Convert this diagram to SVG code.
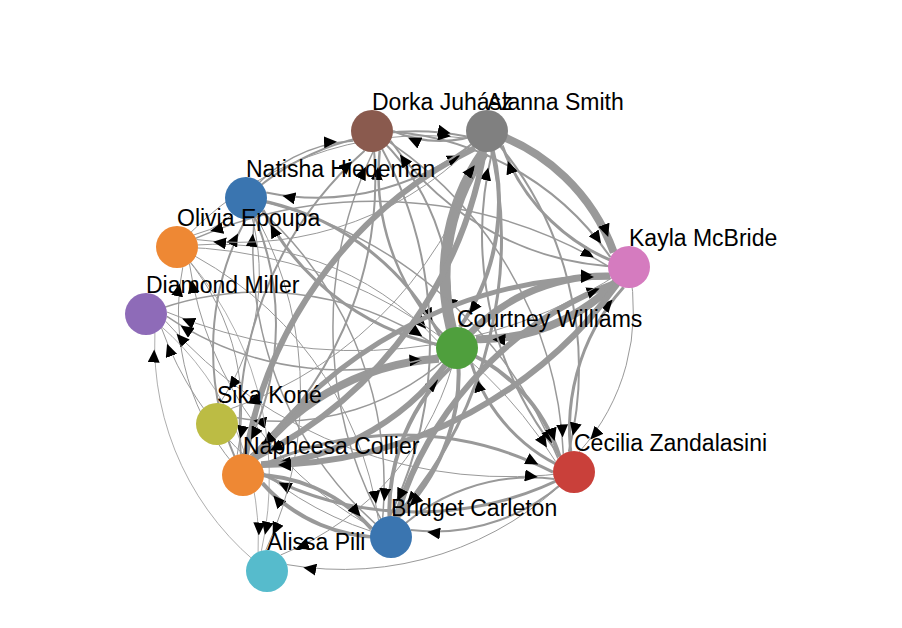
<svg xmlns="http://www.w3.org/2000/svg" width="902" height="628" viewBox="0 0 902 628">
<style>
.e{fill:none;stroke:#999;marker-end:url(#arr)}
.lbl{font-family:"Liberation Sans",Arial,Helvetica,sans-serif;font-size:23px;fill:#000}
</style>
<defs>
<marker id="arr" viewBox="0 -6 13 12" refX="29.5" refY="0" markerWidth="13" markerHeight="12" markerUnits="userSpaceOnUse" orient="auto">
<path d="M0,-6L13,0L0,6Z" fill="#000"/>
</marker>
</defs>
<rect width="902" height="628" fill="#fff"/>
<g id="links">
<path class="e" stroke-width="8" d="M629,267A190,190 0 0,1 476,339.1"/>
<path class="e" stroke-width="3" d="M574,472A170.5,170.5 0 0,1 471.4,363.3"/>
<path class="e" stroke-width="4" d="M391,537A200,200 0 0,1 450.1,367.8"/>
<path class="e" stroke-width="8" d="M243,475A249,249 0 0,1 438.9,358.7"/>
<path class="e" stroke-width="1.5" d="M146,314A313,313 0 0,1 436.1,345.7"/>
<path class="e" stroke-width="1" d="M177,247A298,298 0 0,1 437.3,340.9"/>
<path class="e" stroke-width="3" d="M246,198A259,259 0 0,1 439.9,335.8"/>
<path class="e" stroke-width="2" d="M372,131A233,233 0 0,1 449.3,328.5"/>
<path class="e" stroke-width="4" d="M487,131A219,219 0 0,1 459.9,327.2"/>
<path class="e" stroke-width="8" d="M487,131A197,197 0 0,1 613.8,252.5"/>
<path class="e" stroke-width="2" d="M372,131A291,291 0 0,1 610.4,257.2"/>
<path class="e" stroke-width="1.5" d="M177,247A452,452 0 0,1 608,266.1"/>
<path class="e" stroke-width="7" d="M457,348A190,190 0 0,1 610,276"/>
<path class="e" stroke-width="6" d="M391,537A360,360 0 0,1 615.1,282.8"/>
<path class="e" stroke-width="3" d="M574,472A212,212 0 0,1 623.6,287.3"/>
<path class="e" stroke-width="5" d="M243,475A438.5,438.5 0 0,1 610.5,277"/>
<path class="e" stroke-width="2" d="M246,198A250,250 0 0,1 466.8,136.6"/>
<path class="e" stroke-width="1" d="M177,247A331,331 0 0,1 467.3,138.4"/>
<path class="e" stroke-width="6" d="M243,475A421.7,421.7 0 0,1 474.9,148.1"/>
<path class="e" stroke-width="11" d="M457,348A219,219 0 0,1 484.1,151.8"/>
<path class="e" stroke-width="2" d="M574,472A352,352 0 0,1 492.2,151.4"/>
<path class="e" stroke-width="3" d="M629,267A197,197 0 0,1 502.2,145.5"/>
<path class="e" stroke-width="2" d="M487,131A115,115 0 0,1 393,131"/>
<path class="e" stroke-width="2" d="M629,267A291,291 0 0,1 390.6,140.8"/>
<path class="e" stroke-width="1.5" d="M246,198A142.7,142.7 0 0,1 353.5,140.9"/>
<path class="e" stroke-width="2.5" d="M457,348A233,233 0 0,1 379.7,150.6"/>
<path class="e" stroke-width="1.5" d="M391,537A406,406 0 0,1 373,152"/>
<path class="e" stroke-width="2" d="M243,475A367,367 0 0,1 364.6,150.7"/>
<path class="e" stroke-width="2" d="M487,131A250,250 0 0,1 266.2,192.4"/>
<path class="e" stroke-width="3" d="M457,348A259,259 0 0,1 263.1,210.2"/>
<path class="e" stroke-width="1.5" d="M391,537A369,369 0 0,1 254.3,217.3"/>
<path class="e" stroke-width="2" d="M243,475A277,277 0 0,1 245.8,219"/>
<path class="e" stroke-width="1" d="M246,198A84.6,84.6 0 0,1 194.1,234.8"/>
<path class="e" stroke-width="1" d="M487,131A331,331 0 0,1 196.7,239.6"/>
<path class="e" stroke-width="1" d="M243,475A237,237 0 0,1 182.8,267.2"/>
<path class="e" stroke-width="1" d="M391,537A360,360 0 0,1 189.5,263.9"/>
<path class="e" stroke-width="1" d="M629,267A485,485 0 0,1 166.9,312"/>
<path class="e" stroke-width="1.5" d="M457,348A313,313 0 0,1 166.9,316.3"/>
<path class="e" stroke-width="1" d="M574,472A456,456 0 0,1 165.7,321.3"/>
<path class="e" stroke-width="1" d="M391,537A331,331 0 0,1 161.5,328.1"/>
<path class="e" stroke-width="0.8" d="M267,571A284,284 0 0,1 154.9,333"/>
<path class="e" stroke-width="1" d="M246,198A228,228 0 0,1 219.7,403.2"/>
<path class="e" stroke-width="1" d="M487,131A398,398 0 0,1 231.2,408.6"/>
<path class="e" stroke-width="1.5" d="M457,348A252,252 0 0,1 237,417.7"/>
<path class="e" stroke-width="2" d="M372,131A367,367 0 0,1 250.4,455.3"/>
<path class="e" stroke-width="6" d="M487,131A421.7,421.7 0 0,1 255.2,457.9"/>
<path class="e" stroke-width="2" d="M246,198A277,277 0 0,1 243.2,454"/>
<path class="e" stroke-width="1" d="M177,247A237,237 0 0,1 237.2,454.8"/>
<path class="e" stroke-width="6" d="M457,348A249,249 0 0,1 261.1,464.3"/>
<path class="e" stroke-width="6" d="M629,267A438.5,438.5 0 0,1 261.5,465"/>
<path class="e" stroke-width="3" d="M574,472A331,331 0 0,1 264,474.8"/>
<path class="e" stroke-width="4" d="M391,537A160.5,160.5 0 0,1 262.4,483.1"/>
<path class="e" stroke-width="0.8" d="M146,314A284,284 0 0,1 258.1,552"/>
<path class="e" stroke-width="0.8" d="M177,247A336,336 0 0,1 261.4,550.8"/>
<path class="e" stroke-width="1" d="M246,198A374,374 0 0,1 265.8,550"/>
<path class="e" stroke-width="1" d="M457,348A293,293 0 0,1 280.6,555"/>
<path class="e" stroke-width="1" d="M574,472A323,323 0 0,1 287,564.6"/>
<path class="e" stroke-width="1" d="M177,247A360,360 0 0,1 378.5,520.1"/>
<path class="e" stroke-width="1.5" d="M246,198A369,369 0 0,1 382.7,517.7"/>
<path class="e" stroke-width="2" d="M372,131A406,406 0 0,1 390,516"/>
<path class="e" stroke-width="3" d="M487,131A417,417 0 0,1 395.8,516.6"/>
<path class="e" stroke-width="4" d="M457,348A200,200 0 0,1 397.9,517.2"/>
<path class="e" stroke-width="4" d="M243,475A160.5,160.5 0 0,1 371.6,528.9"/>
<path class="e" stroke-width="2" d="M574,472A194,194 0 0,1 410.8,530"/>
<path class="e" stroke-width="1" d="M177,247A456,456 0 0,1 555.7,461.6"/>
<path class="e" stroke-width="1.5" d="M246,198A427,427 0 0,1 557.9,458.5"/>
<path class="e" stroke-width="1.5" d="M372,131A396,396 0 0,1 563.3,453.9"/>
<path class="e" stroke-width="2" d="M487,131A352,352 0 0,1 568.8,451.7"/>
<path class="e" stroke-width="1" d="M629,267A212,212 0 0,1 579.4,451.7"/>
<path class="e" stroke-width="3" d="M243,475A331,331 0 0,1 553,472.2"/>
<path class="e" stroke-width="2" d="M391,537A194,194 0 0,1 554.2,479"/>
<path class="e" stroke-width="4" d="M457,348A170.5,170.5 0 0,1 559.6,456.7"/>
</g>
<g id="nodes">
<g id="n-dorka"><circle cx="372" cy="131" r="21" fill="#8a5a4e"/><text class="lbl" x="372" y="110">Dorka Juhász</text></g>
<g id="n-alanna"><circle cx="487" cy="131" r="21" fill="#808080"/><text class="lbl" x="487" y="110">Alanna Smith</text></g>
<g id="n-natisha"><circle cx="246" cy="198" r="21" fill="#3a75b0"/><text class="lbl" x="246" y="177">Natisha Hiedeman</text></g>
<g id="n-olivia"><circle cx="177" cy="247" r="21" fill="#ee8834"/><text class="lbl" x="177" y="226">Olivia Epoupa</text></g>
<g id="n-kayla"><circle cx="629" cy="267" r="21" fill="#d57bbf"/><text class="lbl" x="629" y="246">Kayla McBride</text></g>
<g id="n-diamond"><circle cx="146" cy="314" r="21" fill="#8e6bb8"/><text class="lbl" x="146" y="293">Diamond Miller</text></g>
<g id="n-courtney"><circle cx="457" cy="348" r="21" fill="#4f9f3d"/><text class="lbl" x="457" y="327">Courtney Williams</text></g>
<g id="n-sika"><circle cx="217" cy="424" r="21" fill="#bcbc44"/><text class="lbl" x="217" y="403">Sika Koné</text></g>
<g id="n-napheesa"><circle cx="243" cy="475" r="21" fill="#ee8834"/><text class="lbl" x="243" y="454">Napheesa Collier</text></g>
<g id="n-cecilia"><circle cx="574" cy="472" r="21" fill="#c9403a"/><text class="lbl" x="574" y="451">Cecilia Zandalasini</text></g>
<g id="n-bridget"><circle cx="391" cy="537" r="21" fill="#3a75b0"/><text class="lbl" x="391" y="516">Bridget Carleton</text></g>
<g id="n-alissa"><circle cx="267" cy="571" r="21" fill="#56bbcc"/><text class="lbl" x="267" y="550">Alissa Pili</text></g>
</g>
</svg>
